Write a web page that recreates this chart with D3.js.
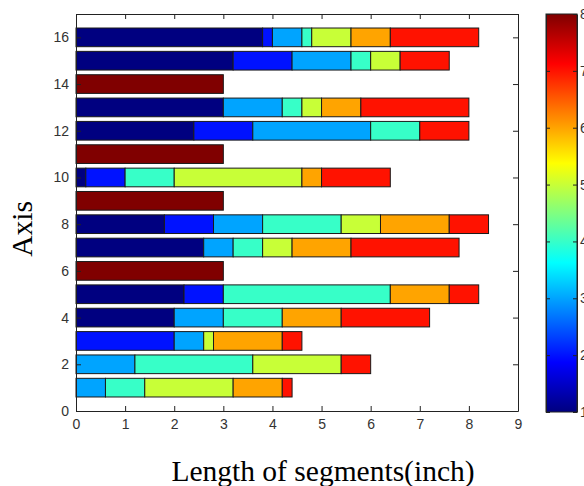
<!DOCTYPE html>
<html>
<head>
    <meta charset="utf-8">
    <script src="https://cdnjs.cloudflare.com/ajax/libs/d3/7.8.5/d3.min.js"></script>
    <style>
        body{
            margin: 0;
            background: #fff;
        }
        .title{
            font-family: "Liberation Serif", "Times New Roman", serif;
            font-size: 29.5px;
            fill: #000;
        }
    </style>
    <title>Segments</title>
</head>
<body>
    <div class="chart-wrap"></div>

    <script>
    // rows of the chart (y positions 1..16)
    var rows = [1, 2, 3, 4, 5, 6, 7, 8, 9, 10, 11, 12, 13, 14, 15, 16];

    // colour level of each stacked series (jet colormap, 1..8)
    var levels = [1, 2, 3, 4, 5, 6, 7, 8];

    // segment lengths per level, one value per row
    var level1 = [0, 0, 0, 2.0, 2.2, 0, 2.6, 1.8, 0, 0.2, 0, 2.4, 3.0, 0, 3.2, 3.8];
    var level2 = [0, 0, 2.0, 0, 0.8, 0, 0, 1.0, 0, 0.8, 0, 1.2, 0, 0, 1.2, 0.2];
    var level3 = [0.6, 1.2, 0.6, 1.0, 0, 0, 0.6, 1.0, 0, 0, 0, 2.4, 1.2, 0, 1.2, 0.6];
    var level4 = [0.8, 2.4, 0, 1.2, 3.4, 0, 0.6, 1.6, 0, 1.0, 0, 1.0, 0.4, 0, 0.4, 0.2];
    var level5 = [1.8, 1.8, 0.2, 0, 0, 0, 0.6, 0.8, 0, 2.6, 0, 0, 0.4, 0, 0.6, 0.8];
    var level6 = [1.0, 0, 1.4, 1.2, 1.2, 0, 1.2, 1.4, 0, 0.4, 0, 0, 0.8, 0, 0, 0.8];
    var level7 = [0.2, 0.6, 0.4, 1.8, 0.6, 0, 2.2, 0.8, 0, 1.4, 0, 1.0, 2.2, 0, 1.0, 1.8];
    var level8 = [0, 0, 0, 0, 0, 3, 0, 0, 3, 0, 3, 0, 0, 3, 0, 0];

    var xTicks = [0, 1, 2, 3, 4, 5, 6, 7, 8, 9];
    var yTicks = [0, 2, 4, 6, 8, 10, 12, 14, 16];
    var cbTicks = [1, 2, 3, 4, 5, 6, 7, 8];

    var series = [level1, level2, level3, level4, level5, level6, level7, level8];

    var w = 584,
        h = 486;
    var plotLeft = 76, plotRight = 518, plotTop = 14, plotBottom = 411;

    // continuous jet colormap over [1, 8]
    function jet(v) {
        var t = (v - 1) / 7;
        var c = function (x) { return Math.max(0, Math.min(1, x)); };
        var r = c(1.5 - Math.abs(4 * t - 3)),
            g = c(1.5 - Math.abs(4 * t - 2)),
            b = c(1.5 - Math.abs(4 * t - 1));
        return d3.rgb(r * 255, g * 255, b * 255).formatHex();
    }

    var table = rows.map(function (r, i) {
        var o = {row: r};
        levels.forEach(function (l, j) { o["l" + l] = series[j][i]; });
        return o;
    });

    var stacked = d3.stack()
        .keys(levels.map(function (l) { return "l" + l; }))(table);

    var x = d3.scaleLinear().domain([0, 9]).range([plotLeft, plotRight]);
    var y = d3.scaleLinear().domain([0, 17]).range([plotBottom, plotTop]);
    var barH = (y(0) - y(0.8));

    var svg = d3.select(".chart-wrap").append("svg")
        .attr("width", w)
        .attr("height", h);

    // bars
    stacked.forEach(function (layer, j) {
        svg.append("g")
            .selectAll("rect")
            .data(layer.filter(function (d) { return d[1] - d[0] > 0; }))
            .enter().append("rect")
            .attr("x", function (d) { return x(d[0]); })
            .attr("y", function (d) { return y(d.data.row) - barH / 2; })
            .attr("width", function (d) { return x(d[1]) - x(d[0]); })
            .attr("height", barH)
            .style("fill", jet(levels[j]))
            .style("stroke", "#1a1a1a")
            .style("stroke-width", 1);
    });

    // axes, MATLAB style (ticks inside, full box)
    function styleAxis(g) {
        g.selectAll("path.domain").style("stroke", "#222");
        g.selectAll(".tick line").style("stroke", "#222");
        g.selectAll(".tick text")
            .style("font-family", "'Liberation Sans', Arial, sans-serif")
            .style("font-size", "14px")
            .style("fill", "#333");
    }

    svg.append("g")
        .attr("transform", "translate(0," + plotBottom + ")")
        .call(d3.axisBottom(x).tickValues(xTicks).tickSize(-5).tickSizeOuter(0).tickPadding(8))
        .call(styleAxis);

    svg.append("g")
        .attr("transform", "translate(0," + plotTop + ")")
        .call(d3.axisTop(x).tickValues(xTicks).tickSize(-5).tickSizeOuter(0).tickFormat(""))
        .call(styleAxis);

    svg.append("g")
        .attr("transform", "translate(" + plotLeft + ",0)")
        .call(d3.axisLeft(y).tickValues(yTicks).tickSize(-5).tickSizeOuter(0).tickPadding(7))
        .call(styleAxis);

    svg.append("g")
        .attr("transform", "translate(" + plotRight + ",0)")
        .call(d3.axisRight(y).tickValues(yTicks).tickSize(-5).tickSizeOuter(0).tickFormat(""))
        .call(styleAxis);

    // colorbar
    var cbLeft = 546, cbRight = 577;
    var cy = d3.scaleLinear().domain([1, 8]).range([plotBottom + 1, plotTop]);

    var grad = svg.append("defs").append("linearGradient")
        .attr("id", "jet-grad")
        .attr("x1", 0).attr("y1", 1).attr("x2", 0).attr("y2", 0);
    d3.range(0, 65).forEach(function (i) {
        var v = 1 + 7 * i / 64;
        grad.append("stop")
            .attr("offset", (i / 64 * 100) + "%")
            .attr("stop-color", jet(v));
    });

    svg.append("rect")
        .attr("x", cbLeft)
        .attr("y", cy(8))
        .attr("width", cbRight - cbLeft)
        .attr("height", cy(1) - cy(8))
        .style("fill", "url(#jet-grad)")
        .style("stroke", "#222");

    svg.append("g")
        .attr("transform", "translate(" + cbLeft + ",0)")
        .call(d3.axisLeft(cy).tickValues(cbTicks).tickSize(-4).tickSizeOuter(0).tickFormat(""))
        .call(styleAxis);

    svg.append("g")
        .attr("transform", "translate(" + cbRight + ",0)")
        .call(d3.axisRight(cy).tickValues(cbTicks).tickSize(-4).tickSizeOuter(0).tickPadding(3))
        .call(styleAxis);

    // titles
    svg.append("text")
        .attr("class", "title")
        .attr("x", 323)
        .attr("y", 481)
        .attr("text-anchor", "middle")
        .text("Length of segments(inch)");

    svg.append("text")
        .attr("class", "title")
        .attr("transform", "translate(32,229) rotate(-90)")
        .attr("text-anchor", "middle")
        .text("Axis");
    </script>
</body>
</html>
